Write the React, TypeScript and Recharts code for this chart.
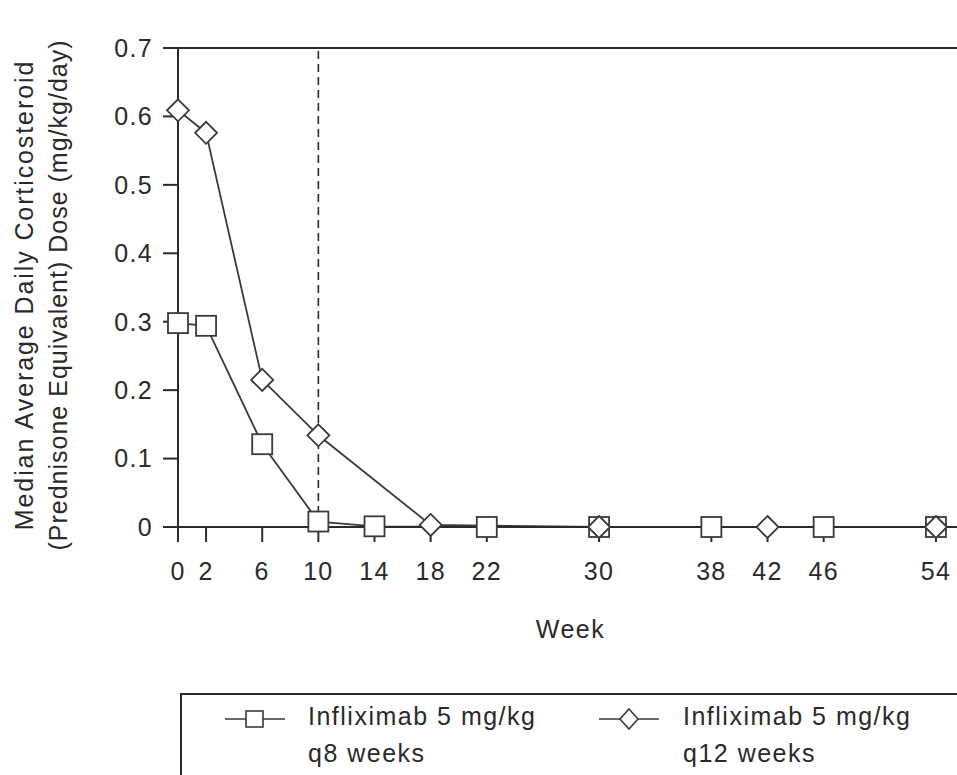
import { LineChart, Line, XAxis, YAxis, ReferenceLine } from 'recharts';

const FONT = '"Liberation Sans", Arial, Helvetica, sans-serif';
const INK = '#2a2a2a';
const LINE = '#3a3a3a';

// q8 arm (squares)
const q8Weeks = [0, 2, 6, 10, 14, 22, 30, 38, 46, 54];
const q8Dose = [0.298, 0.294, 0.121, 0.008, 0.001, 0, 0, 0, 0, 0];
// q12 arm (diamonds)
const q12Weeks = [0, 2, 6, 10, 18, 30, 42, 54];
const q12Dose = [0.609, 0.576, 0.215, 0.134, 0.003, 0, 0, 0];

const weekTicks = [0, 2, 6, 10, 14, 18, 22, 30, 38, 42, 46, 54];
const doseTicks = [0, 0.1, 0.2, 0.3, 0.4, 0.5, 0.6, 0.7];
const yTitle = ['Median Average Daily Corticosteroid', '(Prednisone Equivalent) Dose (mg/kg/day)'];
const legendNames = ['Infliximab 5 mg/kg', 'Infliximab 5 mg/kg'];
const legendSub = ['q8 weeks', 'q12 weeks'];

const q8Data = q8Weeks.map((week, i) => ({ week, dose: q8Dose[i] }));
const q12Data = q12Weeks.map((week, i) => ({ week, dose: q12Dose[i] }));

const tickStyle = { fontSize: 25, fill: INK, fontFamily: FONT, letterSpacing: 1.3 };

const SquareDot = (props: any) => {
    const { cx, cy, index } = props;
    if (cx == null || cy == null) return null;
    return <rect key={`sq-${index}`} x={cx - 10} y={cy - 10} width={20} height={20} fill="#fff" stroke={LINE} strokeWidth={1.8} />;
};

const DiamondDot = (props: any) => {
    const { cx, cy, index } = props;
    if (cx == null || cy == null) return null;
    const r = 11;
    return (
        <polygon
            key={`dm-${index}`}
            points={`${cx},${cy - r} ${cx + r},${cy} ${cx},${cy + r} ${cx - r},${cy}`}
            fill="#fff"
            stroke={LINE}
            strokeWidth={1.8}
        />
    );
};

// two-line rotated title on the left
const YTitle = () => {
    const cy = 295;
    return (
        <g fontFamily={FONT} fontSize={25} fill={INK} textAnchor="middle">
            <text x={33} y={cy} letterSpacing={1.9} transform={`rotate(-90, 33, ${cy})`}>{yTitle[0]}</text>
            <text x={67} y={cy} letterSpacing={1.0} transform={`rotate(-90, 67, ${cy})`}>{yTitle[1]}</text>
        </g>
    );
};

const XTitle = (props: any) => {
    const { viewBox } = props;
    const cx = viewBox.x + viewBox.width / 2 + 3;
    return (
        <text x={cx} y={638} textAnchor="middle" fontFamily={FONT} fontSize={25} fill={INK} letterSpacing={1.5}>
            Week
        </text>
    );
};

const LegendIcon = ({ shape }: { shape: 'square' | 'diamond' }) => (
    <svg width={62} height={24} style={{ display: 'block' }}>
        <line x1={1} y1={12} x2={61} y2={12} stroke={LINE} strokeWidth={1.6} />
        {shape === 'square' ? (
            <rect x={22} y={4} width={17} height={16} fill="#fff" stroke={LINE} strokeWidth={1.6} />
        ) : (
            <polygon points="31,2 40,12 31,22 22,12" fill="#fff" stroke={LINE} strokeWidth={1.6} />
        )}
    </svg>
);

export default function App() {
    const legendText = {
        position: 'absolute' as const,
        fontFamily: FONT,
        fontSize: 25,
        lineHeight: '37px',
        letterSpacing: 1.5,
        color: INK,
        whiteSpace: 'nowrap' as const,
        top: 698,
    };
    return (
        <div style={{ position: 'absolute', left: 0, top: 0, width: 957, height: 775, overflow: 'hidden', background: '#fff' }}>
            <LineChart width={957} height={775} margin={{ top: 48, right: 0, bottom: 137, left: 0 }}>
                <XAxis
                    dataKey="week"
                    type="number"
                    domain={[0, 55.5]}
                    ticks={weekTicks}
                    interval={0}
                    height={111}
                    tickSize={15}
                    tickMargin={20}
                    tick={tickStyle}
                    axisLine={{ stroke: INK, strokeWidth: 2 }}
                    tickLine={{ stroke: INK, strokeWidth: 2 }}
                    label={{ content: XTitle }}
                />
                <YAxis
                    type="number"
                    domain={[0, 0.7]}
                    ticks={doseTicks}
                    interval={0}
                    width={178}
                    tickSize={15}
                    tickMargin={10}
                    tick={tickStyle}
                    tickFormatter={(v: number) => (v === 0 ? '0' : v.toFixed(1))}
                    axisLine={{ stroke: INK, strokeWidth: 2 }}
                    tickLine={{ stroke: INK, strokeWidth: 2 }}
                    label={{ content: YTitle }}
                />
                <ReferenceLine y={0.7} stroke={INK} strokeWidth={2} />
                <ReferenceLine x={10} stroke={INK} strokeWidth={1.6} strokeDasharray="8 5" />
                <Line
                    data={q8Data}
                    dataKey="dose"
                    stroke={LINE}
                    strokeWidth={1.8}
                    dot={SquareDot}
                    activeDot={false}
                    isAnimationActive={false}
                />
                <Line
                    data={q12Data}
                    dataKey="dose"
                    stroke={LINE}
                    strokeWidth={1.8}
                    dot={DiamondDot}
                    activeDot={false}
                    isAnimationActive={false}
                />
            </LineChart>

            <div style={{ position: 'absolute', left: 180, top: 693, width: 900, height: 200, border: `2px solid ${INK}` }} />
            <div style={{ position: 'absolute', left: 224, top: 707 }}>
                <LegendIcon shape="square" />
            </div>
            <div style={{ ...legendText, left: 308 }}>
                {legendNames[0]}
                <br />
                {legendSub[0]}
            </div>
            <div style={{ position: 'absolute', left: 598, top: 707 }}>
                <LegendIcon shape="diamond" />
            </div>
            <div style={{ ...legendText, left: 683 }}>
                {legendNames[1]}
                <br />
                {legendSub[1]}
            </div>
        </div>
    );
}
